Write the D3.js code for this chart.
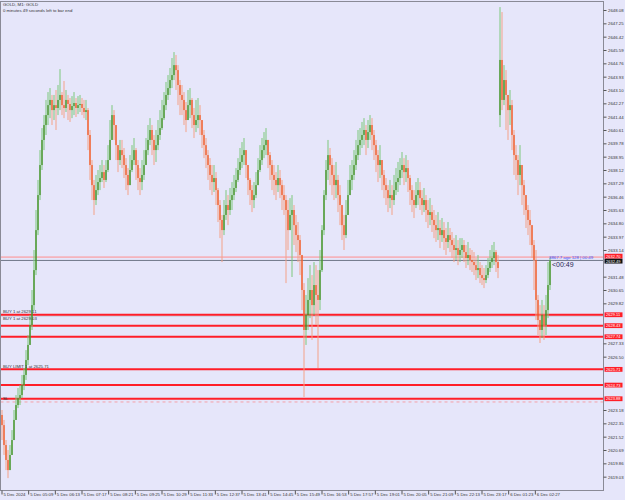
<!DOCTYPE html>
<html><head><meta charset="utf-8">
<script src="https://cdn.jsdelivr.net/npm/d3@7"></script>
<style>body{margin:0;background:#e6e6fa;} svg{display:block;font-family:"Liberation Sans",Arial,sans-serif;}</style>
</head><body><svg id="c" width="625" height="500"></svg>
<script>
// ---- data (GOLD, M1, aggregated candles) ----
const closes = [
2622.24,2621.00,2620.07,2619.44,2620.38,2621.31,2622.56,2623.49,2623.92,2624.11,
2624.73,2625.36,2626.29,2627.23,2628.47,2629.71,2631.89,2634.38,2636.56,2638.43,
2639.99,2640.92,2641.54,2642.16,2642.48,2641.85,2642.16,2641.98,2642.48,2642.79,
2642.16,2641.98,2642.48,2642.23,2641.85,2642.10,2642.29,2641.98,2642.16,2642.23,
2641.98,2641.73,2641.85,2640.30,2638.43,2637.18,2636.25,2636.87,2637.37,2637.62,
2637.99,2637.50,2638.12,2638.74,2639.99,2641.54,2640.92,2639.67,2638.74,2639.36,
2639.05,2638.43,2637.81,2637.18,2638.12,2638.74,2639.36,2638.43,2637.62,2637.37,
2637.81,2638.43,2639.36,2639.99,2640.61,2639.99,2639.36,2639.67,2640.30,2640.73,
2641.35,2642.16,2642.79,2643.22,2643.72,2644.03,2644.65,2644.34,2643.41,2642.79,
2642.48,2641.85,2641.23,2642.16,2642.48,2641.54,2640.92,2641.23,2641.54,2641.23,
2640.30,2639.67,2639.05,2638.43,2637.81,2637.37,2637.62,2636.87,2635.94,2635.01,
2634.38,2635.32,2635.94,2635.63,2636.25,2636.56,2637.00,2637.50,2638.12,2638.62,
2639.05,2639.36,2638.43,2637.50,2636.87,2636.25,2636.56,2637.18,2638.12,2638.74,
2639.36,2639.67,2639.99,2639.05,2638.43,2637.81,2637.50,2637.18,2637.62,2637.18,
2636.56,2636.25,2635.63,2634.38,2635.32,2635.63,2634.69,2634.07,2633.76,2632.83,
2630.65,2628.16,2629.09,2630.03,2630.65,2629.71,2630.96,2630.34,2630.03,2631.89,
2634.38,2636.56,2638.12,2639.05,2638.43,2637.81,2637.18,2637.50,2636.56,2635.94,
2634.69,2634.07,2635.32,2636.56,2637.50,2637.81,2638.43,2639.05,2639.67,2639.99,
2640.30,2640.61,2639.99,2640.48,2640.92,2640.30,2639.67,2639.05,2638.43,2638.74,
2637.81,2637.18,2636.87,2636.37,2636.56,2636.25,2636.87,2637.37,2637.62,2638.12,
2638.43,2637.99,2638.24,2637.62,2636.87,2636.25,2635.94,2636.56,2636.87,2636.37,
2635.94,2636.25,2635.63,2635.32,2635.50,2635.01,2634.69,2634.38,2634.51,2634.07,
2634.38,2633.88,2633.64,2634.07,2633.76,2633.45,2633.14,2633.26,2632.83,2633.14,
2633.45,2633.01,2632.64,2632.83,2632.52,2632.39,2632.20,2631.89,2632.02,2631.58,
2631.39,2631.27,2631.58,2632.02,2632.39,2632.64,2633.01,2632.39,2632.02,2644.97,
2642.48,2643.72,2642.79,2641.85,2642.16,2640.30,2639.05,2638.74,2637.81,2638.43,
2637.18,2636.56,2635.63,2635.01,2634.69,2633.45,2632.52,2630.03,2628.78,2628.16,
2629.09,2628.47,2629.40,2630.96,2632.49];
const highs = [
2623.18,2622.56,2621.31,2620.69,2621.00,2621.93,2623.18,2624.11,2624.55,2624.73,
2625.36,2625.79,2626.91,2627.85,2629.09,2630.65,2633.14,2635.63,2637.50,2639.36,
2640.73,2641.54,2642.48,2642.97,2643.22,2642.79,2642.79,2643.10,2643.41,2644.40,
2642.97,2643.66,2643.10,2642.79,2642.60,2642.72,2642.97,2642.60,2642.72,2642.79,
2642.60,2642.48,2642.48,2641.98,2640.61,2638.74,2637.50,2637.81,2638.12,2638.43,
2638.74,2638.43,2638.74,2639.67,2641.23,2642.16,2641.85,2640.92,2639.67,2639.99,
2639.99,2639.49,2638.86,2638.24,2639.05,2639.67,2640.11,2639.49,2638.74,2638.24,
2638.74,2639.36,2640.11,2640.92,2641.35,2640.92,2640.30,2640.61,2641.23,2641.85,
2642.48,2642.97,2643.60,2644.03,2644.47,2645.09,2645.46,2645.28,2644.65,2643.72,
2643.41,2642.97,2642.35,2643.10,2643.22,2642.60,2641.98,2642.48,2642.60,2642.16,
2641.23,2640.61,2640.11,2639.36,2638.86,2638.43,2638.43,2637.99,2637.00,2636.25,
2635.32,2636.25,2636.87,2636.56,2637.00,2637.37,2637.81,2638.24,2638.86,2639.49,
2639.86,2640.11,2639.36,2638.43,2637.62,2637.18,2637.37,2637.99,2638.86,2639.67,
2640.11,2640.48,2640.73,2639.99,2639.24,2638.74,2638.43,2637.99,2638.43,2638.12,
2637.50,2637.18,2636.56,2636.25,2636.37,2636.56,2635.94,2635.32,2634.88,2634.07,
2631.89,2631.08,2630.34,2631.39,2632.20,2631.58,2632.39,2632.20,2631.89,2633.14,
2634.69,2636.87,2638.74,2639.99,2639.49,2638.86,2638.43,2638.62,2637.81,2637.18,
2635.94,2635.32,2636.25,2637.50,2638.43,2638.74,2639.36,2639.99,2640.61,2640.73,
2641.11,2641.35,2640.92,2641.23,2641.54,2641.35,2640.61,2639.99,2639.36,2639.67,
2638.74,2638.12,2637.62,2637.18,2637.50,2637.18,2637.81,2638.24,2638.62,2638.86,
2639.24,2638.86,2639.05,2638.74,2637.81,2637.18,2636.87,2637.37,2637.62,2637.37,
2636.87,2637.00,2636.56,2636.25,2636.37,2635.94,2635.63,2635.32,2635.50,2635.01,
2635.13,2634.88,2634.51,2634.88,2634.51,2634.26,2633.88,2634.07,2633.76,2633.88,
2633.88,2633.76,2633.45,2633.64,2633.26,2633.14,2633.01,2632.64,2632.83,2632.39,
2632.20,2632.02,2632.20,2632.64,2633.14,2633.45,2633.64,2633.14,2632.83,2648.26,
2647.95,2644.65,2644.34,2642.79,2643.10,2642.48,2640.61,2639.67,2639.05,2639.67,
2638.43,2637.50,2636.56,2635.94,2635.63,2634.69,2633.76,2633.14,2630.34,2629.71,
2630.03,2629.71,2630.34,2632.39,2632.70];
const lows = [
2621.31,2620.38,2619.44,2618.94,2619.44,2620.38,2621.31,2622.56,2623.30,2623.49,
2623.92,2624.42,2625.05,2625.98,2627.23,2628.16,2629.40,2631.58,2634.07,2636.25,
2638.12,2639.36,2640.30,2640.92,2641.35,2640.92,2641.23,2640.61,2641.54,2641.85,
2641.54,2641.35,2641.73,2641.23,2641.11,2641.35,2641.54,2641.42,2641.60,2641.73,
2641.54,2641.35,2641.23,2639.36,2637.50,2636.25,2635.32,2635.94,2636.56,2636.87,
2637.37,2637.00,2637.37,2637.99,2638.74,2639.99,2639.99,2638.74,2637.99,2638.43,
2638.24,2637.62,2636.87,2636.56,2637.18,2637.99,2638.43,2637.50,2636.87,2636.56,
2636.87,2637.50,2638.43,2639.05,2639.67,2639.05,2638.43,2638.62,2639.36,2639.99,
2640.61,2641.23,2641.85,2642.48,2642.79,2643.22,2643.72,2643.10,2642.16,2641.54,
2641.54,2640.92,2640.48,2641.23,2641.35,2640.73,2640.11,2640.48,2640.73,2640.30,
2639.49,2638.86,2638.24,2637.50,2636.87,2636.56,2636.75,2635.94,2634.88,2633.88,
2632.39,2634.07,2635.01,2634.69,2635.32,2635.63,2636.25,2636.75,2637.37,2637.81,
2638.24,2638.43,2637.62,2636.56,2635.94,2635.50,2635.75,2636.37,2637.18,2637.99,
2638.43,2638.86,2639.05,2638.24,2637.50,2636.87,2636.56,2636.25,2636.75,2636.37,
2635.63,2635.32,2631.08,2633.14,2634.38,2631.46,2633.45,2633.01,2632.39,2631.58,
2629.40,2623.99,2627.23,2628.16,2628.90,2627.54,2629.09,2628.47,2625.79,2629.40,
2631.77,2634.07,2636.25,2637.50,2637.18,2636.56,2636.25,2636.37,2635.50,2634.69,
2633.76,2633.14,2633.88,2635.32,2636.56,2636.87,2637.50,2638.12,2638.74,2639.05,
2639.49,2639.67,2639.05,2639.49,2639.99,2639.36,2638.74,2637.99,2637.37,2637.62,
2636.87,2636.37,2635.94,2635.50,2635.75,2635.32,2635.94,2636.56,2636.75,2637.18,
2637.62,2637.18,2637.37,2636.75,2635.94,2635.50,2635.13,2635.75,2635.94,2635.63,
2635.32,2635.50,2634.88,2634.51,2634.69,2634.26,2633.88,2633.64,2633.76,2633.26,
2633.64,2633.14,2632.83,2633.26,2633.01,2632.64,2632.39,2632.52,2632.20,2632.39,
2632.64,2632.39,2632.02,2632.20,2631.89,2631.77,2631.58,2631.27,2631.39,2631.08,
2630.96,2630.77,2631.08,2631.39,2631.77,2632.02,2632.20,2631.77,2631.39,2640.79,
2641.85,2642.16,2640.61,2639.99,2640.92,2639.36,2637.81,2637.50,2636.56,2637.18,
2635.94,2635.32,2634.51,2634.07,2633.45,2632.64,2630.65,2628.78,2627.85,2627.35,
2627.66,2627.54,2627.85,2628.90,2630.65];
const firstOpen = 2622.87;
const gapOpens = [{index: 249, open: 2641.54}];
const minutesPerCandle = 4.8;

const priceTicks = [2648.08,2647.25,2646.42,2645.59,2644.76,2643.93,2643.10,2642.27,2641.44,2640.61,
2639.78,2638.95,2638.12,2637.29,2636.46,2635.63,2634.80,2633.97,2633.14,2632.31,2631.48,2630.65,
2629.82,2628.99,2628.16,2627.33,2626.50,2625.67,2624.84,2624.01,2623.18,2622.35,2621.52,2620.69,
2619.86,2619.03];
const timeTickMinutes = [0,64,128,192,256,320,384,448,512,576,640,704,768,832,896,960,1024,1088,1152,1216,1280];
const timeLabels = ["5 Dec 2024","5 Dec 05:09","5 Dec 06:13","5 Dec 07:17","5 Dec 08:21","5 Dec 09:25",
"5 Dec 10:29","5 Dec 11:33","5 Dec 12:37","5 Dec 13:41","5 Dec 14:45","5 Dec 15:49","5 Dec 16:53",
"5 Dec 17:57","5 Dec 19:01","5 Dec 20:05","5 Dec 21:09","5 Dec 22:13","5 Dec 23:17","6 Dec 01:23","6 Dec 02:27"];

const bid = 2632.49, ask = 2632.70;
const orderLevels = [2629.11, 2628.43, 2627.74, 2625.71, 2624.73, 2623.88];
const positionLevel = 2629.03;
const slLevel = 2623.68;
const orderTexts = [
  {price: 2629.11, text: "BUY 1 at 2629.11"},
  {price: 2629.03, text: "BUY 1 at 2629.03", below: true},
  {price: 2625.71, text: "BUY LIMIT 1 at 2625.71"},
  {price: 2623.68, text: "SL"}];
const titleLines = ["GOLD, M1:  GOLD", "0 minutes 49 seconds left to bar end"];
const infoText = "3867.7 ago 128 | 00:49";
const countdown = "<00:49";

// ---- layout ----
const W = 625, H = 500;
const plot = {l: 0.5, t: 1.5, r: 603.5, b: 490.5};
const FS = 4.3;
const svg = d3.select("#c");
svg.append("rect").attr("width", W).attr("height", H).attr("fill", "#e6e6fa");

const x = d3.scaleLinear().domain([0, 274 * minutesPerCandle]).range([2, 550]);
const y = d3.scaleLinear().domain([2648.08, 2619.03]).range([10, 476.67]);

// candles
const candles = closes.map((c, i) => {
  let o = i === 0 ? firstOpen : closes[i - 1];
  const gp = gapOpens.find(g => g.index === i);
  if (gp) o = gp.open;
  return {i, o, c, h: Math.max(highs[i], o, c), l: Math.min(lows[i], o, c)};
});

svg.append("clipPath").attr("id", "clip").append("rect")
  .attr("x", plot.l).attr("y", plot.t).attr("width", plot.r - plot.l).attr("height", plot.b - plot.t);
const g = svg.append("g").attr("clip-path", "url(#clip)");

// horizontal levels
g.append("line").attr("x1", plot.l).attr("x2", plot.r).attr("y1", y(ask)).attr("y2", y(ask))
  .attr("stroke", "#ff8c8c").attr("stroke-width", 1);
g.append("line").attr("x1", plot.l).attr("x2", plot.r).attr("y1", y(bid)).attr("y2", y(bid))
  .attr("stroke", "#707888").attr("stroke-width", 1);
g.append("line").attr("x1", plot.l).attr("x2", plot.r).attr("y1", y(positionLevel)).attr("y2", y(positionLevel))
  .attr("stroke", "#a0a0a8").attr("stroke-width", 1).attr("stroke-dasharray", "1,1");
g.append("line").attr("x1", plot.l).attr("x2", plot.r).attr("y1", y(slLevel)).attr("y2", y(slLevel))
  .attr("stroke", "#f4a0a8").attr("stroke-width", 1).attr("stroke-dasharray", "3,3");
g.selectAll("line.ord").data(orderLevels).join("line").attr("class", "ord")
  .attr("x1", plot.l).attr("x2", plot.r).attr("y1", d => y(d)).attr("y2", d => y(d))
  .attr("stroke", "#ff1e28").attr("stroke-width", 2);

const bull = "#3a8a1a", bear = "#f0501a";
const cg = g.append("g");
cg.selectAll("line.w").data(candles).join("line").attr("class", "w")
  .attr("x1", d => x(d.i * minutesPerCandle)).attr("x2", d => x(d.i * minutesPerCandle))
  .attr("y1", d => y(d.h)).attr("y2", d => y(d.l))
  .attr("stroke", d => d.c >= d.o ? "#7cc87c" : "#f4a288").attr("stroke-width", 1);
cg.selectAll("rect.b").data(candles).join("rect").attr("class", "b")
  .attr("x", d => x(d.i * minutesPerCandle) - 0.6).attr("width", 1.2)
  .attr("y", d => y(Math.max(d.o, d.c)))
  .attr("height", d => Math.max(0.8, Math.abs(y(d.o) - y(d.c))))
  .attr("fill", d => d.c >= d.o ? bull : bear);

// order texts
const tg = svg.append("g").attr("font-size", FS).attr("fill", "#333");
tg.selectAll("text").data(orderTexts).join("text")
  .attr("x", 3).attr("y", d => y(d.price) + (d.below ? 3.5 : -1.5)).text(d => d.text);

// frame
svg.append("rect").attr("x", plot.l).attr("y", plot.t).attr("width", plot.r - plot.l).attr("height", plot.b - plot.t)
  .attr("fill", "none").attr("stroke", "#8a8a96").attr("stroke-width", 1);

// right price labels (hide axis ticks underneath them)
const labs = orderLevels.map(p => ({p, bg: "#ff1e28", dy: 0}))
  .concat([{p: ask, bg: "#ff1e28", dy: -0.9}, {p: bid, bg: "#111", dy: 0.7}]);
const visibleTicks = priceTicks.filter(t => labs.every(l => Math.abs(y(t) - y(l.p)) > 4.5));

// right axis
const ra = svg.append("g").attr("transform", `translate(${plot.r},0)`)
  .call(d3.axisRight(y).tickValues(visibleTicks).tickFormat(d3.format(".2f")).tickSize(3).tickPadding(1.5));
ra.select(".domain").remove();
ra.selectAll("line").attr("stroke", "#555");
ra.selectAll("text").attr("font-size", FS).attr("fill", "#333").attr("font-family", "Liberation Sans");

const lg = svg.append("g");
labs.forEach(d => {
  const cy = y(d.p) + d.dy;
  lg.append("rect").attr("x", plot.r + 1).attr("y", cy - 2.4).attr("width", 18).attr("height", 4.8).attr("fill", d.bg);
  lg.append("text").attr("x", plot.r + 2.5).attr("y", cy + 1.4).attr("font-size", 4.0)
    .attr("fill", "#fff").text(d3.format(".2f")(d.p));
});

// bottom axis
const ba = svg.append("g").attr("transform", `translate(0,${plot.b})`);
ba.selectAll("g").data(timeTickMinutes).join("g").each(function(m, i) {
  const s = d3.select(this);
  s.append("line").attr("x1", x(m)).attr("x2", x(m)).attr("y1", 0).attr("y2", 4).attr("stroke", "#555");
  s.append("text").attr("x", x(m) + 1.5).attr("y", 5.5).attr("font-size", FS).attr("fill", "#333").text(timeLabels[i]);
});

// title
svg.append("g").selectAll("text").data(titleLines).join("text")
  .attr("x", 3).attr("y", (d, i) => 6 + i * 5.5).attr("font-size", FS).attr("fill", "#333").text(d => d);

// info near last candle
svg.append("text").attr("x", 549).attr("y", y(ask) + 1.5).attr("font-size", FS).attr("fill", "#3a52ff").text(infoText);
svg.append("text").attr("x", 552).attr("y", y(bid) + 7).attr("font-size", 7).attr("fill", "#2a2a55").text(countdown);
</script></body></html>
